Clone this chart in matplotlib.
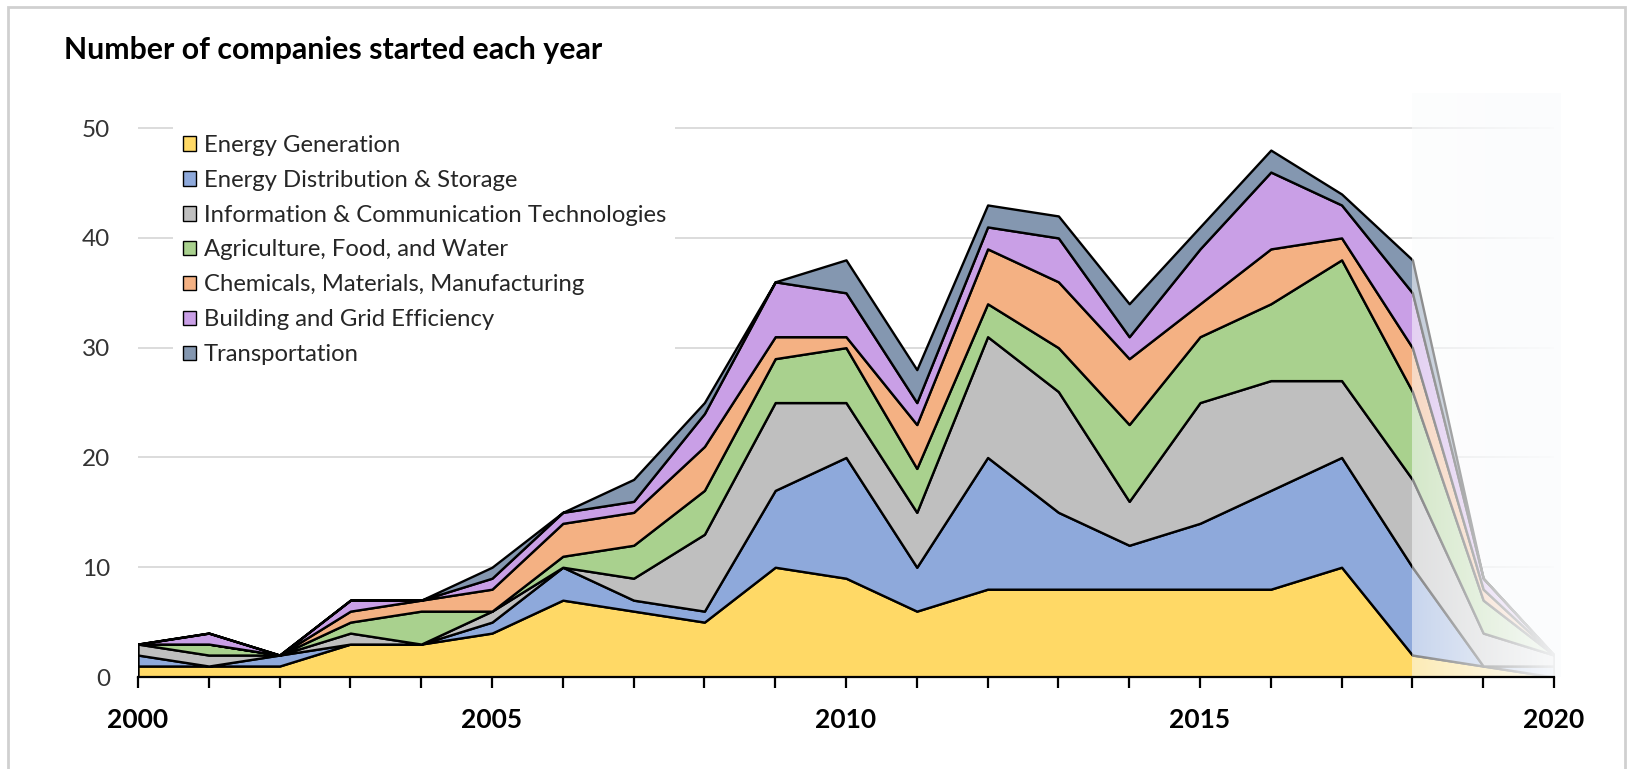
import numpy as np
import matplotlib.pyplot as plt
from matplotlib.patches import Rectangle

years = list(range(2000, 2021))
energy_generation = [1, 1, 1, 3, 3, 4, 7, 6, 5, 10, 9, 6, 8, 8, 8, 8, 8, 10, 2, 1, 0]
distribution_storage = [1, 0, 1, 0, 0, 1, 3, 1, 1, 7, 11, 4, 12, 7, 4, 6, 9, 10, 8, 0, 1]
info_comm_tech = [1, 1, 0, 1, 0, 1, 0, 2, 7, 8, 5, 5, 11, 11, 4, 11, 10, 7, 8, 3, 1]
agri_food_water = [0, 1, 0, 1, 3, 0, 1, 3, 4, 4, 5, 4, 3, 4, 7, 6, 7, 11, 8, 3, 0]
chem_materials = [0, 0, 0, 1, 1, 2, 3, 3, 4, 2, 1, 4, 5, 6, 6, 3, 5, 2, 4, 1, 0]
building_grid = [0, 1, 0, 1, 0, 1, 1, 1, 3, 5, 4, 2, 2, 4, 2, 5, 7, 3, 5, 1, 0]
transportation = [0, 0, 0, 0, 0, 1, 0, 2, 1, 0, 3, 3, 2, 2, 3, 2, 2, 1, 3, 0, 0]

labels = ["Energy Generation", "Energy Distribution & Storage",
          "Information & Communication Technologies", "Agriculture, Food, and Water",
          "Chemicals, Materials, Manufacturing", "Building and Grid Efficiency",
          "Transportation"]
colors = ["#FFD966", "#8EA9DB", "#BFBFBF", "#A9D18E", "#F4B183", "#C99FE6", "#8497B0"]

plt.rcParams['font.family'] = ['Lato', 'DejaVu Sans']

W, H = 1631, 769
fig = plt.figure(figsize=(W / 100, H / 100), dpi=100)
ax = fig.add_axes([138 / W, 1 - 677 / H, (1554 - 138) / W, (677 - 93) / H])

# gridlines drawn by hand so the axis (ticks) can sit above the fade
for v in range(10, 51, 10):
    ax.axhline(v, color="#d9d9d9", lw=1.3, zorder=0.5)

ax.stackplot(years, energy_generation, distribution_storage, info_comm_tech,
             agri_food_water, chem_materials, building_grid, transportation,
             labels=labels, colors=colors, edgecolor="black", linewidth=1.7, zorder=2)

# washed-out region for the incomplete recent years
fade = np.ones((1, 256, 4))
fade[..., 0] = 0.988
fade[..., 1] = 0.99
fade[..., 2] = 0.996
fade[0, :, 3] = np.linspace(0.5, 0.97, 256) ** 0.9
ax.imshow(fade, extent=(2018, 2020.1, 0, 53.2), aspect="auto", zorder=4,
          interpolation="bilinear", clip_on=False)

ax.set_xlim(2000, 2020)
ax.set_ylim(0, 53.2)

for s in ["top", "right", "left"]:
    ax.spines[s].set_visible(False)
ax.spines["bottom"].set_linewidth(1.6)
ax.spines["bottom"].set_zorder(10)
ax.xaxis.set_zorder(10)

ax.set_xticks(years)
ax.set_xticklabels([str(y) if y % 5 == 0 else "" for y in years],
                   fontsize=19, fontweight="bold")
ax.tick_params(axis="x", direction="out", length=8, width=1.6, pad=14, colors="black")
ax.set_yticks(range(0, 51, 10))
ax.tick_params(axis="y", length=0, pad=20, labelsize=17.5, labelcolor="#333333")

leg = ax.legend(loc="upper left", bbox_to_anchor=(173 / W, 1 - 125 / H),
                bbox_transform=fig.transFigure, fontsize=17.2, frameon=True,
                facecolor="white", edgecolor="none", framealpha=1, fancybox=False,
                handlelength=0.58, handleheight=0.58, handletextpad=0.3,
                labelspacing=0.585, borderpad=0.4, borderaxespad=0)
for h in leg.legend_handles:
    h.set_linewidth(1.0)
for t in leg.get_texts():
    t.set_color("#262626")
leg.set_zorder(6)

fig.text(64 / W, 1 - 50 / H, "Number of companies started each year",
         fontsize=21.8, fontweight="bold", va="center", ha="left")

fig.add_artist(Rectangle((8 / W, -0.02), (1625 - 8) / W, 1.011, transform=fig.transFigure,
                         fill=False, edgecolor="#d0d0d0", linewidth=2))

fig.savefig("out.png", dpi=100)
